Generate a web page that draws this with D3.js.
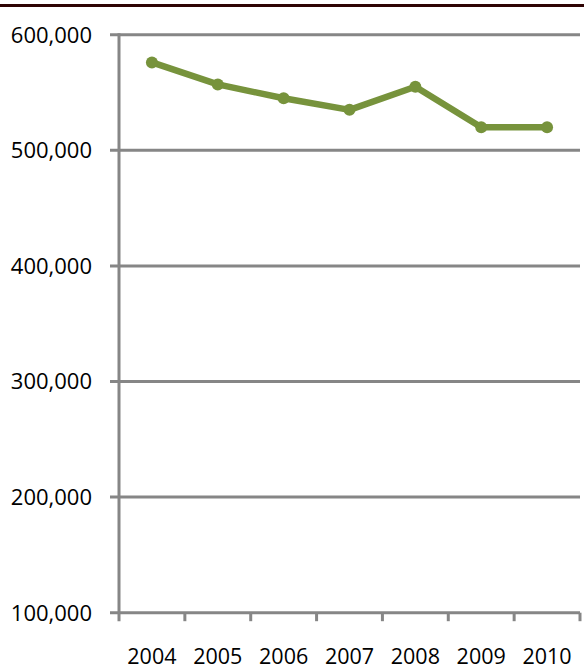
<!DOCTYPE html>
<html>
<head>
<meta charset="utf-8">
<script src="https://cdn.jsdelivr.net/npm/d3@7"></script>
<style>
  body { margin: 0; background: #fff; }
  text { font-family: "Open Sans", sans-serif; fill: #000; }
</style>
</head>
<body>
<div id="chart"></div>
<script>
// data
const years = ["2004", "2005", "2006", "2007", "2008", "2009", "2010"];
const values = [576000, 557000, 545000, 535000, 555000, 520000, 520000];
const yTicks = [100000, 200000, 300000, 400000, 500000, 600000];

const W = 584, H = 669;
const plotLeft = 119, plotRight = 580, plotTop = 34.7, plotBottom = 612.7;
const gridColor = "#868686";

const svg = d3.select("#chart")
  .append("svg")
    .attr("width", W)
    .attr("height", H);

// dark rule at the top of the page
svg.append("rect")
  .attr("x", 0).attr("y", 4)
  .attr("width", W).attr("height", 3)
  .attr("fill", "#2e0404");

const x = d3.scaleBand()
  .domain(years)
  .range([plotLeft, plotRight])
  .paddingInner(0).paddingOuter(0);

const y = d3.scaleLinear()
  .domain([100000, 600000])
  .range([plotBottom, plotTop]);

const fmt = d3.format(",");

// horizontal gridlines + y labels
const yg = svg.append("g");
yg.selectAll("line")
  .data(yTicks)
  .join("line")
    .attr("x1", plotLeft - 9)
    .attr("x2", plotRight)
    .attr("y1", d => y(d))
    .attr("y2", d => y(d))
    .attr("stroke", gridColor)
    .attr("stroke-width", 3);

yg.selectAll("text")
  .data(yTicks)
  .join("text")
    .attr("x", 92)
    .attr("y", d => y(d))
    .attr("dy", "0.36em")
    .attr("text-anchor", "end")
    .style("font-size", "22px")
    .text(d => fmt(d));

// y axis line
svg.append("line")
  .attr("x1", plotLeft).attr("x2", plotLeft)
  .attr("y1", plotTop - 1.5).attr("y2", plotBottom + 8.5)
  .attr("stroke", gridColor)
  .attr("stroke-width", 3);

// x ticks between categories
const tickPos = years.map(d => x(d)).concat([x(years[years.length - 1]) + x.bandwidth()]);
svg.append("g")
  .selectAll("line")
  .data(tickPos.slice(1))
  .join("line")
    .attr("x1", d => d).attr("x2", d => d)
    .attr("y1", plotBottom).attr("y2", plotBottom + 8.5)
    .attr("stroke", gridColor)
    .attr("stroke-width", 3);

// x labels
svg.append("g")
  .selectAll("text")
  .data(years)
  .join("text")
    .attr("x", d => x(d) + x.bandwidth() / 2)
    .attr("y", 664)
    .attr("text-anchor", "middle")
    .style("font-size", "21.5px")
    .text(d => d);

// the series
const pts = years.map((d, i) => ({year: d, value: values[i]}));
const line = d3.line()
  .x(d => x(d.year) + x.bandwidth() / 2)
  .y(d => y(d.value));

svg.append("path")
  .datum(pts)
  .attr("d", line)
  .attr("fill", "none")
  .attr("stroke", "#77933c")
  .attr("stroke-width", 6.5)
  .attr("stroke-linejoin", "round");

svg.append("g")
  .selectAll("circle")
  .data(pts)
  .join("circle")
    .attr("cx", d => x(d.year) + x.bandwidth() / 2)
    .attr("cy", d => y(d.value))
    .attr("r", 6)
    .attr("fill", "#77933c");
</script>
</body>
</html>
